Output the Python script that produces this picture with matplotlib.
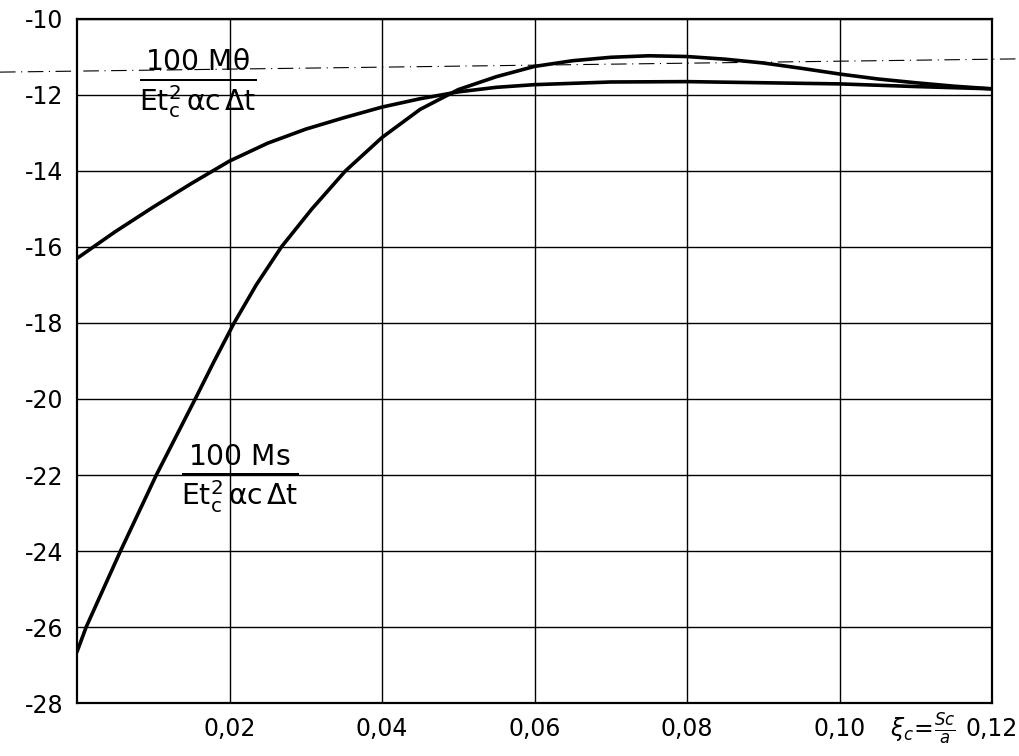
import numpy as np
import matplotlib
matplotlib.use('Agg')
import matplotlib.pyplot as plt

plt.rcParams['mathtext.fontset'] = 'dejavusans'

# values
xs_me = [0.0, 0.005, 0.01, 0.015, 0.02, 0.025, 0.03, 0.035, 0.04,
         0.045, 0.05, 0.055, 0.06, 0.07, 0.08, 0.09, 0.10, 0.11, 0.12]
me = [-16.3, -15.6, -14.95, -14.33, -13.74, -13.27, -12.9, -12.6, -12.32,
      -12.1, -11.92, -11.8, -11.73, -11.66, -11.65, -11.68, -11.71, -11.78, -11.84]

xs_ms = [0.0, 0.0012, 0.0057, 0.0104, 0.0155, 0.018, 0.0206, 0.0235, 0.0268, 0.0308,
         0.0352, 0.04, 0.045, 0.05, 0.055, 0.06, 0.065, 0.07, 0.075, 0.08, 0.085,
         0.09, 0.095, 0.10, 0.105, 0.11, 0.115, 0.12]
ms = [-26.65, -26.0, -24.0, -22.0, -20.0, -19.0, -18.0, -17.0, -16.0, -15.0,
      -14.0, -13.12, -12.38, -11.86, -11.52, -11.25, -11.1, -11.01, -10.97, -10.99, -11.06,
      -11.16, -11.3, -11.45, -11.58, -11.68, -11.77, -11.84]

# drafting line across the sheet
ref_x = [-0.0101, 0.124]
ref_y = [-11.40, -11.05]

xticks = [0.02, 0.04, 0.06, 0.08, 0.10, 0.12]
xlabels = ['0,02', '0,04', '0,06', '0,08', '0,10', '0,12']
yticks = [-10, -12, -14, -16, -18, -20, -22, -24, -26, -28]
ylabels = ['-10', '-12', '-14', '-16', '-18', '-20', '-22', '-24', '-26', '-28']

fig = plt.figure(figsize=(10.2, 7.56), dpi=100)
ax = fig.add_axes([0.0755, 0.070, 0.8971, 0.905])

ax.plot(xs_me, me, color='black', lw=2.6, solid_capstyle='round', solid_joinstyle='round')
ax.plot(xs_ms, ms, color='black', lw=2.6, solid_capstyle='round', solid_joinstyle='round')
ax.plot(ref_x, ref_y, color='black', lw=0.8, ls=(0, (14, 5, 1, 5)), clip_on=False)

ax.set_xlim(0, 0.12)
ax.set_ylim(-28, -10)
ax.set_xticks(xticks)
ax.set_xticklabels(xlabels)
ax.set_yticks(yticks)
ax.set_yticklabels(ylabels)
ax.tick_params(length=0, labelsize=17, pad=10)
ax.grid(True, color='black', lw=1.0)
for s in ax.spines.values():
    s.set_linewidth(1.6)

ax.text(0.1066, -28.68, r'$\xi_c\!=\!\frac{Sc}{a}$', fontsize=17, ha='left', va='center')

ax.text(0.0158, -11.7, r'$\frac{100\ \mathrm{M\theta}}{\mathrm{Et_c^2\,\alpha c\,\Delta t}}$',
        fontsize=29, ha='center', va='center')
ax.text(0.0214, -22.1, r'$\frac{100\ \mathrm{Ms}}{\mathrm{Et_c^2\,\alpha c\,\Delta t}}$',
        fontsize=29, ha='center', va='center')

fig.savefig('out.png', dpi=100)
